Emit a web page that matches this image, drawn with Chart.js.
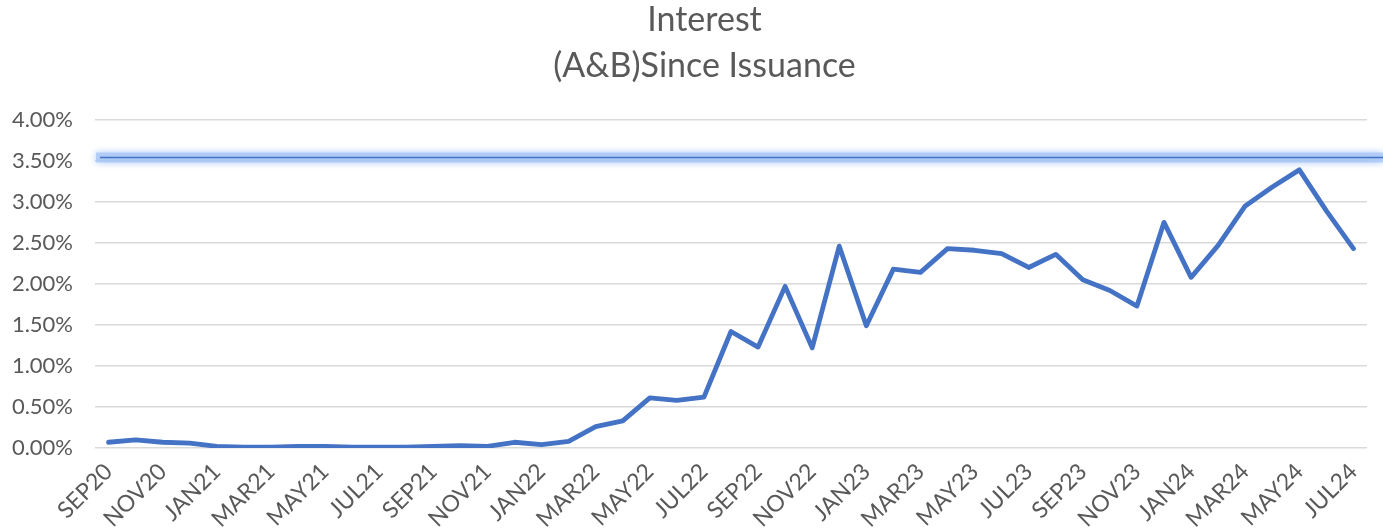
<!DOCTYPE html>
<html>
<head>
<meta charset="utf-8">
<title>Interest (A&amp;B) Since Issuance</title>
<script src="https://cdn.jsdelivr.net/npm/chart.js@4.4.1/dist/chart.umd.min.js"></script>
<style>
  html, body { margin: 0; padding: 0; background: #fff; }
  #wrap { width: 1383px; height: 531px; position: relative; }
</style>
</head>
<body>
<div id="wrap"><canvas id="chart"></canvas></div>
<script>
// month labels, SEP20 .. JUL24 (only every second one is shown on the axis)
const months = [
  'SEP20','OCT20','NOV20','DEC20','JAN21','FEB21','MAR21','APR21','MAY21','JUN21','JUL21','AUG21',
  'SEP21','OCT21','NOV21','DEC21','JAN22','FEB22','MAR22','APR22','MAY22','JUN22','JUL22','AUG22',
  'SEP22','OCT22','NOV22','DEC22','JAN23','FEB23','MAR23','APR23','MAY23','JUN23','JUL23','AUG23',
  'SEP23','OCT23','NOV23','DEC23','JAN24','FEB24','MAR24','APR24','MAY24','JUN24','JUL24'
];

// interest rate, in percent
const interest = [
  0.07, 0.10, 0.07, 0.06, 0.02, 0.01, 0.01, 0.02, 0.02, 0.01, 0.01, 0.01,
  0.02, 0.03, 0.02, 0.07, 0.04, 0.08, 0.26, 0.33, 0.61, 0.58, 0.62, 1.42,
  1.23, 1.97, 1.22, 2.46, 1.49, 2.18, 2.14, 2.43, 2.41, 2.37, 2.20, 2.36,
  2.05, 1.92, 1.73, 2.75, 2.08, 2.47, 2.95, 3.18, 3.39, 2.89, 2.43
];

// highlighted level line
const REF_LEVEL = 3.54;

const yTicks = [0, 0.5, 1, 1.5, 2, 2.5, 3, 3.5, 4];

const textColor = '#595959';
const fontFamily = 'Lato, "Open Sans", sans-serif';

// glowing horizontal level line, drawn through the y scale
const refLinePlugin = {
  id: 'refLine',
  afterLayout(chart) {
    // original title sits a little right of the canvas centre
    const t = chart.titleBlock;
    if (t) { t.left += 14; t.right += 14; }
  },
  beforeDatasetsDraw(chart) {
    const { ctx, chartArea } = chart;
    const y = chart.scales.y.getPixelForValue(REF_LEVEL);
    const x0 = chartArea.left + 1;
    const x1 = chart.width;
    ctx.save();
    ctx.lineCap = 'butt';
    // soft glow
    ctx.shadowColor = 'rgba(140,180,245,0.9)';
    ctx.shadowBlur = 7;
    ctx.strokeStyle = 'rgba(170,200,245,0.8)';
    ctx.lineWidth = 10;
    ctx.beginPath();
    ctx.moveTo(x0, y);
    ctx.lineTo(x1, y);
    ctx.stroke();
    // thin core
    ctx.shadowBlur = 0;
    ctx.shadowColor = 'transparent';
    ctx.strokeStyle = '#4472c4';
    ctx.lineWidth = 1.6;
    ctx.beginPath();
    ctx.moveTo(x0 + 4, y);
    ctx.lineTo(x1, y);
    ctx.stroke();
    ctx.restore();
  }
};

const ctx = document.getElementById('chart').getContext('2d');
new Chart(ctx, {
  type: 'line',
  data: {
    labels: months,
    datasets: [{
      label: 'Interest',
      data: interest,
      borderColor: '#4472c4',
      borderWidth: 4.8,
      pointRadius: 0,
      tension: 0,
      fill: false,
      borderCapStyle: 'round',
      borderJoinStyle: 'round'
    }]
  },
  options: {
    responsive: true,
    maintainAspectRatio: false,
    animation: false,
    layout: { padding: { left: 0, right: 2, top: -3, bottom: 0 } },
    plugins: {
      legend: { display: false },
      tooltip: { enabled: false },
      title: {
        display: true,
        text: ['Interest', '(A&B)Since Issuance'],
        color: textColor,
        font: { family: fontFamily, size: 34, weight: 'normal', lineHeight: 1.35 },
        padding: { top: 0, bottom: 31 }
      }
    },
    scales: {
      x: {
        offset: true,
        grid: { display: false, drawTicks: false },
        border: { display: false },
        afterFit: s => { s.height = 83; },
        ticks: {
          autoSkip: false,
          maxRotation: 45,
          minRotation: 45,
          padding: 10,
          color: textColor,
          font: { family: fontFamily, size: 23 },
          callback: (v, i) => (i % 2 === 0 ? months[i] : '')
        }
      },
      y: {
        min: 0,
        max: 4,
        afterBuildTicks: s => { s.ticks = yTicks.map(v => ({ value: v })); },
        afterFit: s => { s.width = 95; },
        grid: { color: '#d9d9d9', lineWidth: 1.6, drawTicks: false },
        border: { display: false },
        ticks: {
          padding: 22,
          color: textColor,
          font: { family: fontFamily, size: 22 },
          callback: v => v.toFixed(2) + '%'
        }
      }
    }
  },
  plugins: [refLinePlugin]
});
</script>
</body>
</html>
